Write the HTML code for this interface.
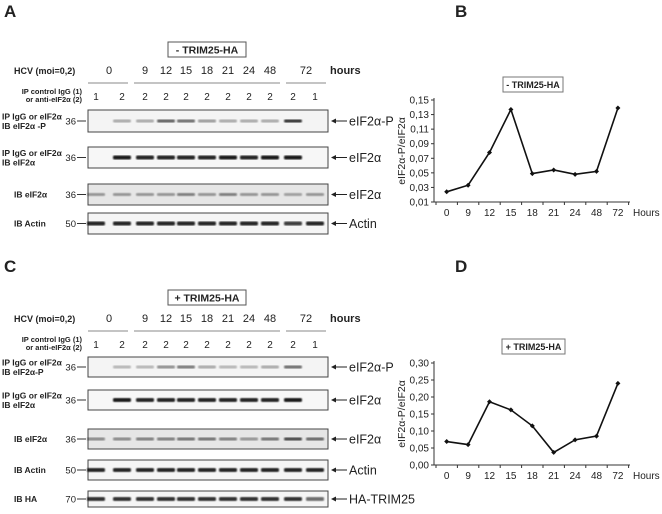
<!DOCTYPE html>
<html><head><meta charset="utf-8">
<style>
html,body{margin:0;padding:0;background:#fff;}
body{width:662px;height:509px;overflow:hidden;font-family:"Liberation Sans",sans-serif;}
svg text{font-family:"Liberation Sans",sans-serif;fill:#222;}
</style></head>
<body>
<svg id="fig" width="662" height="509" viewBox="0 0 662 509" xmlns="http://www.w3.org/2000/svg">
<defs>
<filter id="blur"><feGaussianBlur stdDeviation="0.8"/></filter>
</defs>
<text x="4" y="17" font-size="17" font-weight="bold">A</text>
<text x="455" y="17" font-size="17" font-weight="bold">B</text>
<text x="4" y="272" font-size="17" font-weight="bold">C</text>
<text x="455" y="272" font-size="17" font-weight="bold">D</text>
<g id="blotA"></g>
<g id="blotC"></g>
<g id="chartB"></g>
<g id="chartD"></g>
</svg>
<script>
const NS="http://www.w3.org/2000/svg";
// Chart data
const hourLabels=["0","9","12","15","18","21","24","48","72"];
const ratioMinus=[0.024,0.033,0.078,0.137,0.049,0.054,0.048,0.052,0.139];
const ratioPlus=[0.069,0.060,0.186,0.162,0.115,0.037,0.074,0.085,0.240];
const ticksB=[0.01,0.03,0.05,0.07,0.09,0.11,0.13,0.15];
const ticksD=[0,0.05,0.10,0.15,0.20,0.25,0.30];
// Blot data
const laneHours=["0","9","12","15","18","21","24","48","72"];
const laneIP=["1","2","2","2","2","2","2","2","2","2","1"];
const bandsA_P=[0,0.3,0.3,0.65,0.6,0.4,0.3,0.3,0.3,0.85,0];
const bandsA_T=[0,0.95,0.9,0.9,0.9,0.9,0.95,0.9,0.95,0.95,0];
const bandsA_IB=[0.4,0.4,0.4,0.4,0.5,0.4,0.5,0.4,0.4,0.35,0.4];
const bandsA_Act=[0.9,0.9,0.9,0.9,0.9,0.9,0.9,0.9,0.9,0.8,0.9];
const bandsC_P=[0,0.25,0.25,0.45,0.55,0.3,0.25,0.25,0.3,0.6,0];
const bandsC_T=[0,0.95,0.9,0.9,0.9,0.9,0.9,0.9,0.9,0.95,0];
const bandsC_IB=[0.45,0.45,0.5,0.5,0.55,0.55,0.5,0.4,0.55,0.75,0.6];
const bandsC_Act=[0.9,0.9,0.9,0.9,0.9,0.9,0.9,0.9,0.9,0.9,0.9];
const bandsC_HA=[0.85,0.85,0.85,0.85,0.85,0.85,0.85,0.85,0.85,0.85,0.6];

function el(tag,attrs,parent,txt){const e=document.createElementNS(NS,tag);for(const k in attrs)e.setAttribute(k,attrs[k]);if(txt!==undefined)e.textContent=txt;parent.appendChild(e);return e;}

const laneX=[96,122,145,166,186,207,228,249,270,293,315];
function blot(g,top,title,rows,hasHA){
  let t=el("rect",{x:168,y:top,width:78,height:15,fill:"#fff",stroke:"#555","stroke-width":1},g);
  
  
  let tt=el("text",{x:207,y:top+11.5,"font-size":10.5,"font-weight":"bold","text-anchor":"middle"},g,title);
  
  
  const hy=top+32;
  el("text",{x:14,y:hy,"font-size":9,"font-weight":"bold"},g,"HCV (moi=0,2)");
  const hx=[109,145,166,186,207,228,249,270,306];
  laneHours.forEach((h,i)=>el("text",{x:hx[i],y:hy,"font-size":11,"text-anchor":"middle"},g,h));
  el("text",{x:330,y:hy,"font-size":11,"font-weight":"bold"},g,"hours");
  [[88,128],[134,280],[286,326]].forEach(s=>el("line",{x1:s[0],x2:s[1],y1:hy+9,y2:hy+9,stroke:"#888","stroke-width":1},g));
  el("text",{x:82,y:hy+20,"font-size":7.5,"font-weight":"bold","text-anchor":"end"},g,"IP control IgG (1)");
  el("text",{x:82,y:hy+28,"font-size":7.5,"font-weight":"bold","text-anchor":"end"},g,"or anti-eIF2\u03b1 (2)");
  laneIP.forEach((v,i)=>el("text",{x:laneX[i],y:hy+26,"font-size":10,"text-anchor":"middle"},g,v));
  rows.forEach(r=>{
    const b=el("rect",{x:88,y:r.y,width:240,height:r.h,fill:r.bg,stroke:"#444","stroke-width":1},g);
    
    
    const my=r.y+r.h/2+r.off;
    r.left.forEach((s,i)=>el("text",{x:r.lx,y:my+(i-(r.left.length-1)/2)*9.5+3,"font-size":8.5,"font-weight":"bold"},g,s));
    el("text",{x:76,y:my+3.5,"font-size":9.5,"text-anchor":"end"},g,r.mw);
    el("line",{x1:77,x2:86,y1:my,y2:my,stroke:"#333","stroke-width":1},g);
    r.bands.forEach((v,i)=>{ if(v>0) el("rect",{x:laneX[i]-9,y:my-r.bh/2,width:18,height:r.bh,rx:1.5,fill:"#111","fill-opacity":v,filter:"url(#blur)"},g);});
    el("line",{x1:333,x2:347,y1:my,y2:my,stroke:"#222","stroke-width":1},g);
    el("path",{d:`M331 ${my} l5 -2.5 v5 z`,fill:"#222"},g);
    el("text",{x:349,y:my+4.5,"font-size":12.5},g,r.lbl);
  });
}
const A=document.getElementById("blotA");
blot(A,42,"- TRIM25-HA",[
 {y:110,h:22,off:0,bg:"#f4f4f4",left:["IP IgG or eIF2\u03b1","IB eIF2\u03b1 -P"],lx:2,mw:"36",bands:bandsA_P,bh:3,lbl:"eIF2\u03b1-P"},
 {y:147,h:21,off:0,bg:"#f7f7f7",left:["IP IgG or eIF2\u03b1","IB eIF2\u03b1"],lx:2,mw:"36",bands:bandsA_T,bh:4,lbl:"eIF2\u03b1"},
 {y:184,h:21,off:0,bg:"#e6e6e6",left:["IB eIF2\u03b1"],lx:14,mw:"36",bands:bandsA_IB,bh:3,lbl:"eIF2\u03b1"},
 {y:213,h:21,off:0,bg:"#f5f5f5",left:["IB Actin"],lx:14,mw:"50",bands:bandsA_Act,bh:4,lbl:"Actin"}
],false);
const C=document.getElementById("blotC");
blot(C,290,"+ TRIM25-HA",[
 {y:357,h:20,off:0,bg:"#f4f4f4",left:["IP IgG or eIF2\u03b1","IB eIF2\u03b1-P"],lx:2,mw:"36",bands:bandsC_P,bh:3,lbl:"eIF2\u03b1-P"},
 {y:390,h:20,off:0,bg:"#f7f7f7",left:["IP IgG or eIF2\u03b1","IB eIF2\u03b1"],lx:2,mw:"36",bands:bandsC_T,bh:4,lbl:"eIF2\u03b1"},
 {y:429,h:20,off:0,bg:"#e6e6e6",left:["IB eIF2\u03b1"],lx:14,mw:"36",bands:bandsC_IB,bh:3,lbl:"eIF2\u03b1"},
 {y:460,h:20,off:0,bg:"#f5f5f5",left:["IB Actin"],lx:14,mw:"50",bands:bandsC_Act,bh:4,lbl:"Actin"},
 {y:491,h:16,off:0,bg:"#f5f5f5",left:["IB HA"],lx:14,mw:"70",bands:bandsC_HA,bh:4,lbl:"HA-TRIM25"}
],true);

function chart(g,vals,ticks,yTop,yBot,vmin,vmax,dec,title,tb){
  const x0=434,x1=630;
  const step=21.4;
  const xs=i=>x0+12.7+i*step;
  const ys=v=>yBot-(v-vmin)/(vmax-vmin)*(yBot-yTop);
  el("line",{x1:x0,x2:x0,y1:yTop-2,y2:yBot,stroke:"#333","stroke-width":1},g);
  el("line",{x1:x0,x2:x1,y1:yBot,y2:yBot,stroke:"#333","stroke-width":1},g);
  ticks.forEach(t=>{const y=ys(t);
    const tk=el("line",{x1:x0-3,x2:x0,y1:y,y2:y,stroke:"#333","stroke-width":1},g);
    
    
    const tl=el("text",{x:x0-5,y:y+3.5,"font-size":10,"text-anchor":"end"},g,t.toFixed(dec).replace(".",","));
    
    
  });
  for(let i=0;i<=9;i++){const x=x0+2+i*step;el("line",{x1:x,x2:x,y1:yBot,y2:yBot+3,stroke:"#333","stroke-width":1},g);}
  hourLabels.forEach((h,i)=>{
    const xl=el("text",{x:xs(i),y:yBot+14,"font-size":10,"text-anchor":"middle"},g,h);
    
    
  });
  const hl=el("text",{x:633,y:yBot+14,"font-size":10},g,"Hours");
  
  
  const yl=el("text",{x:0,y:0,"font-size":10.5,"text-anchor":"middle",transform:`translate(${x0-29},${(yTop+yBot)/2}) rotate(-90)`},g,"eIF2\u03b1-P/eIF2\u03b1");
  
  
  const pts=vals.map((v,i)=>xs(i)+","+ys(v)).join(" ");
  const line=el("polyline",{points:pts,fill:"none",stroke:"#111","stroke-width":1.6},g);
  
  
  vals.forEach((v,i)=>{
    const p=el("path",{d:`M${xs(i)} ${ys(v)-2.5} l2.5 2.5 l-2.5 2.5 l-2.5 -2.5 z`,fill:"#111"},g);
    
    
  });
  const box=el("rect",{x:tb[0],y:tb[1],width:tb[2],height:15,fill:"#fff",stroke:"#777","stroke-width":1},g);
  
  
  const tt=el("text",{x:tb[0]+tb[2]/2,y:tb[1]+11,"font-size":9,"font-weight":"bold","text-anchor":"middle"},g,title);
  
  
}
chart(document.getElementById("chartB"),ratioMinus,ticksB,100,202,0.01,0.15,2,"- TRIM25-HA",[503,77,60]);
chart(document.getElementById("chartD"),ratioPlus,ticksD,363,465,0,0.30,2,"+ TRIM25-HA",[502,339,63]);
</script>
</body></html>
